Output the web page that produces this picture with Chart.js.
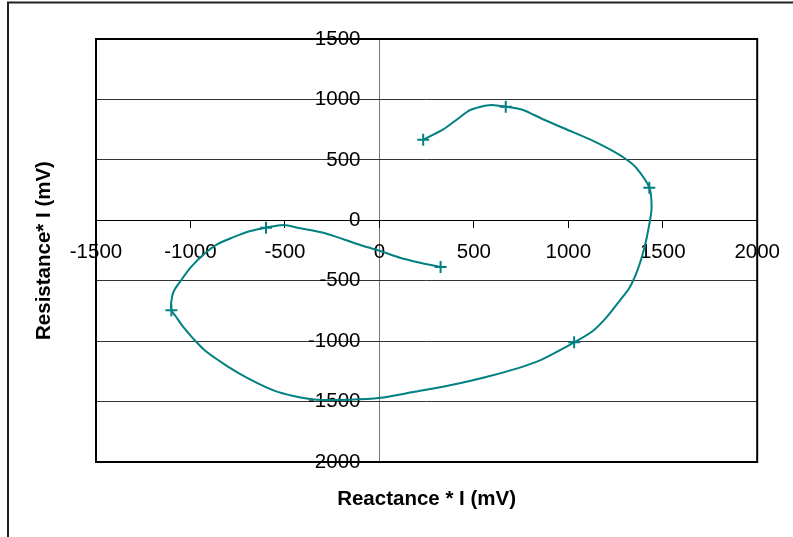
<!DOCTYPE html>
<html>
<head>
<meta charset="utf-8">
<script src="https://cdn.jsdelivr.net/npm/chart.js@4/dist/chart.umd.min.js"></script>
<style>
  html, body { margin: 0; padding: 0; background: #fff; }
  canvas { display: block; }
</style>
</head>
<body>
<canvas id="chart" width="793" height="537"></canvas>
<script>
// smoothed trace: reactance*I against resistance*I, both in mV
const reactance = [232, 338, 400, 479, 532, 593, 669, 760, 866, 989, 1112, 1218, 1306, 1359,
  1429, 1441, 1429, 1403, 1368, 1324, 1271, 1201, 1130, 1031, 831, 585, 356, 180,
  4, -155, -331, -454, -560, -700, -806, -920, -982, -1035, -1079, -1101, -1101, -1088,
  -1052, -1000, -929, -859, -779, -683, -600, -507, -419, -296, -190, -84, 4, 109, 215, 324];
const resistance = [667, 753, 822, 911, 938, 954, 940, 913, 836, 753, 671, 588, 505, 435,
  270, 104, -33, -227, -406, -558, -668, -806, -916, -1010, -1171, -1289, -1372, -1421,
  -1469, -1485, -1485, -1454, -1407, -1303, -1206, -1082, -985, -889, -792, -745, -668, -585,
  -502, -392, -281, -199, -144, -89, -61, -39, -66, -103, -157, -213, -254, -310, -351, -387];

// measured points (drawn as +)
const markReactance = [232, 669, 1429, 1031, -1101, -600, 324];
const markResistance = [667, 940, 270, -1010, -745, -61, -387];

const xRange = [-1500, 2000];
const yRange = [-2000, 1500];
const tickStep = 500;

const xTitle = "Reactance * I (mV)";
const yTitle = "Resistance* I (mV)";

const FONT = "'Liberation Sans', Arial, sans-serif";
const TEAL = "#008080";
// y labels sit a little left of the x = 0 axis line (offset in x units)
const Y_LABEL_AT = -100;

const toPoints = (xs, ys) => xs.map((x, i) => ({ x, y: ys[i] }));

// frame round the plot, outer border and axis titles
const decor = {
  id: "decor",
  beforeDraw(chart) {
    const ctx = chart.ctx;
    ctx.save();
    ctx.strokeStyle = "#222";
    ctx.lineWidth = 2;
    ctx.beginPath();
    ctx.moveTo(8, chart.height);
    ctx.lineTo(8, 2.5);
    ctx.lineTo(chart.width, 2.5);
    ctx.stroke();
    ctx.restore();
  },
  beforeDatasetsDraw(chart) {
    const { ctx, chartArea: a } = chart;
    ctx.save();
    ctx.strokeStyle = "#000";
    ctx.lineWidth = 2;
    ctx.strokeRect(a.left, a.top, a.right - a.left, a.bottom - a.top);
    ctx.restore();
  },
  afterDraw(chart) {
    const { ctx, chartArea: a } = chart;
    ctx.save();
    ctx.fillStyle = "#000";
    ctx.font = "bold 20.5px " + FONT;
    ctx.textAlign = "center";
    ctx.textBaseline = "middle";
    ctx.fillText(xTitle, (a.left + a.right) / 2, 499);
    ctx.translate(44, (a.top + a.bottom) / 2);
    ctx.rotate(-Math.PI / 2);
    ctx.fillText(yTitle, 0, 0);
    ctx.restore();
  }
};

new Chart(document.getElementById("chart"), {
  type: "scatter",
  data: {
    datasets: [
      {
        data: toPoints(reactance, resistance),
        showLine: true,
        borderColor: TEAL,
        borderWidth: 2,
        tension: 0.25,
        pointRadius: 0,
        fill: false
      },
      {
        data: toPoints(markReactance, markResistance),
        showLine: false,
        pointStyle: "cross",
        pointRadius: 6,
        pointBorderWidth: 2,
        borderColor: TEAL,
        backgroundColor: TEAL
      }
    ]
  },
  options: {
    responsive: false,
    animation: false,
    events: [],
    layout: { padding: { left: 96, right: 34, top: 39, bottom: 75 } },
    plugins: { legend: { display: false }, tooltip: { enabled: false } },
    scales: {
      x: {
        type: "linear",
        position: { y: 0 },
        min: xRange[0],
        max: xRange[1],
        ticks: {
          stepSize: tickStep,
          autoSkip: false,
          maxRotation: 0,
          padding: 13,
          color: "#000",
          font: { family: FONT, size: 20.5 },
          callback: v => String(v)
        },
        // only the x = 0 line is drawn across the plot: it is the value axis
        grid: {
          drawOnChartArea: true,
          drawTicks: true,
          tickLength: 7,
          tickColor: "#000",
          color: c => (c.tick && c.tick.value === 0 ? "#777" : "rgba(0,0,0,0)")
        },
        border: { display: true, color: "#000", width: 1 }
      },
      y: {
        type: "linear",
        position: { x: Y_LABEL_AT },
        min: yRange[0],
        max: yRange[1],
        ticks: {
          stepSize: tickStep,
          autoSkip: false,
          color: "#000",
          font: { family: FONT, size: 20.5 },
          callback: v => String(v)
        },
        grid: { color: "#333", drawTicks: false },
        border: { display: false }
      }
    }
  },
  plugins: [decor]
});
</script>
</body>
</html>
